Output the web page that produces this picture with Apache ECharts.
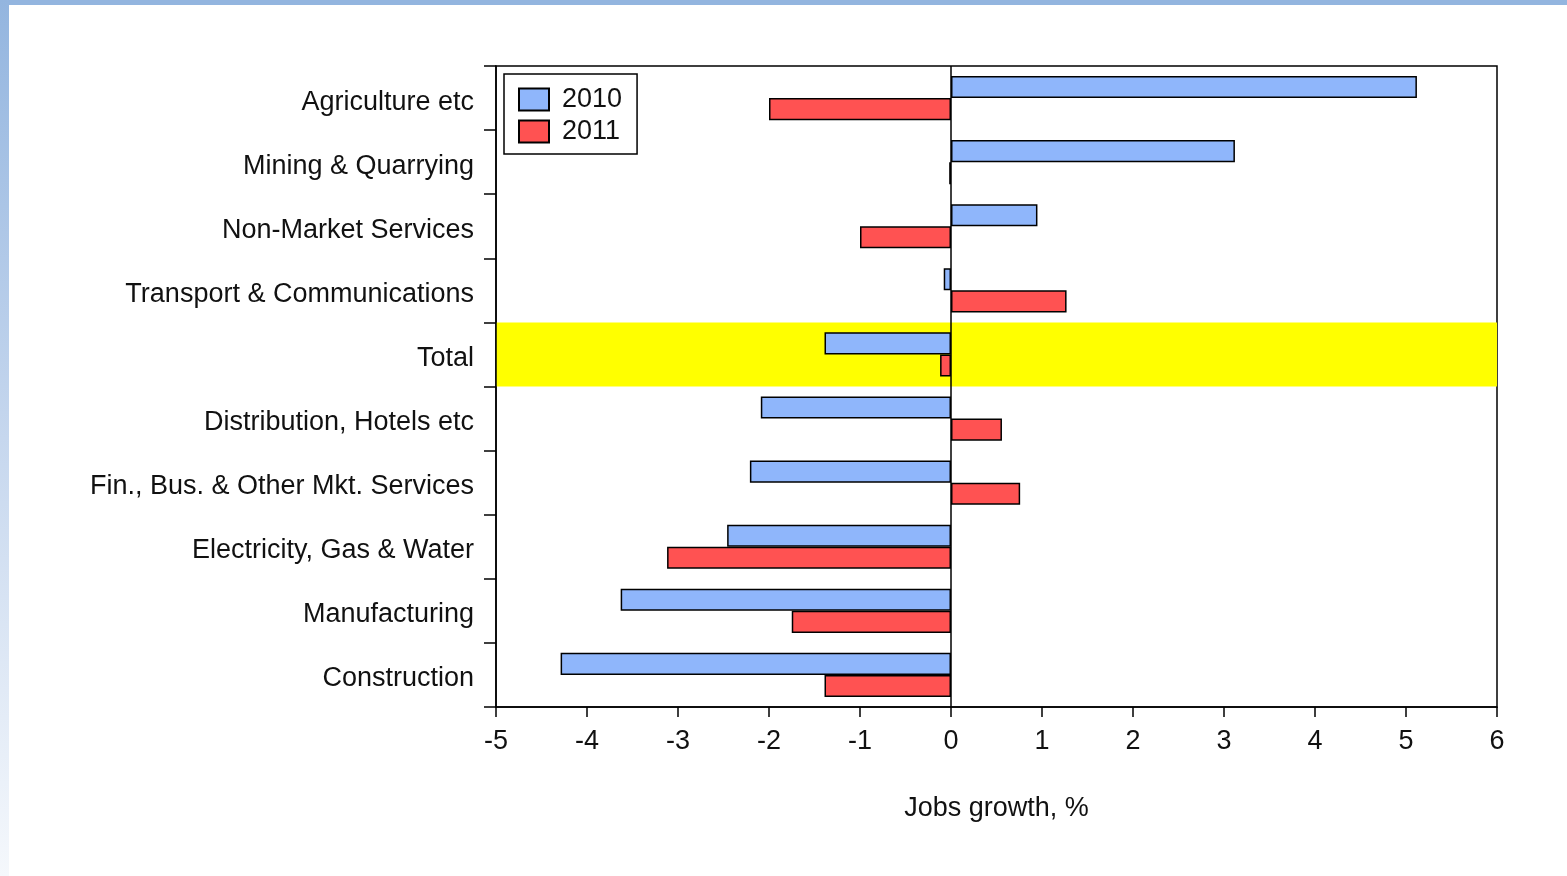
<!DOCTYPE html>
<html>
<head>
<meta charset="utf-8">
<script src="https://cdn.jsdelivr.net/npm/echarts@6/dist/echarts.min.js"></script>
<style>
html,body{margin:0;padding:0;background:#fff;}
#c{width:1567px;height:876px;}
</style>
</head>
<body>
<div id="c"></div>
<script>
const categories = [
  'Agriculture etc',
  'Mining & Quarrying',
  'Non-Market Services',
  'Transport & Communications',
  'Total',
  'Distribution, Hotels etc',
  'Fin., Bus. & Other Mkt. Services',
  'Electricity, Gas & Water',
  'Manufacturing',
  'Construction'
];
const values2010 = [5.12, 3.12, 0.95, -0.08, -1.39, -2.09, -2.21, -2.46, -3.63, -4.29];
const values2011 = [-2.0, -0.02, -1.0, 1.27, -0.12, 0.56, 0.76, -3.12, -1.75, -1.39];
const highlightCategory = 'Total';
const xTicks = { min: -5, max: 6, interval: 1 };
const axisTitle = 'Jobs growth, %';

const FONT = 'Liberation Sans';
const FS = 27;
const splitColors = categories.map(c => c === highlightCategory ? '#ffff00' : 'rgba(0,0,0,0)');

const chart = echarts.init(document.getElementById('c'), null, { renderer: 'canvas' });
chart.setOption({
  backgroundColor: '#ffffff',
  animation: false,
  graphic: [
    { type: 'rect', left: 0, top: 0, shape: { width: 1567, height: 5 }, style: { fill: '#93b5df' }, z: 100 },
    { type: 'rect', left: 0, top: 0, shape: { width: 9, height: 876 },
      style: { fill: new echarts.graphic.LinearGradient(0, 0, 0, 1, [
        { offset: 0, color: '#93b5df' }, { offset: 0.5, color: '#c6d7ee' }, { offset: 1, color: '#f5f8fc' }
      ]) }, z: 100 }
  ],
  grid: {
    left: 496, right: 70, top: 66, bottom: 169,
    show: true, borderColor: '#000', borderWidth: 1.5, backgroundColor: 'transparent'
  },
  legend: {
    orient: 'vertical',
    left: 504, top: 74,
    data: ['2010', '2011'],
    icon: 'rect',
    padding: [12, 15, 9, 14],
    itemWidth: 30, itemHeight: 22, itemGap: 5,
    borderColor: '#000', borderWidth: 1.5,
    backgroundColor: '#fff',
    textStyle: { fontFamily: FONT, fontSize: FS, lineHeight: 22, color: '#111', padding: [0, 0, 0, 8] }
  },
  xAxis: {
    type: 'value',
    min: xTicks.min, max: xTicks.max, interval: xTicks.interval,
    name: axisTitle, nameLocation: 'middle', nameGap: 88,
    nameTextStyle: { fontFamily: FONT, fontSize: FS, color: '#111' },
    axisLine: { show: true, onZero: false, lineStyle: { color: '#000', width: 1.5 } },
    axisTick: { show: true, length: 10, lineStyle: { color: '#000', width: 1.5 } },
    axisLabel: { fontFamily: FONT, fontSize: FS, color: '#111', margin: 21 },
    splitLine: { show: false }
  },
  yAxis: {
    type: 'category',
    data: categories,
    inverse: true,
    axisLine: { show: true, onZero: false, lineStyle: { color: '#000', width: 1.5 } },
    axisTick: { show: true, length: 12, lineStyle: { color: '#000', width: 1.5 } },
    axisLabel: { fontFamily: FONT, fontSize: FS, color: '#111', margin: 22, verticalAlign: 'top', lineHeight: 8 },
    splitLine: { show: false },
    splitArea: { show: true, areaStyle: { color: splitColors } }
  },
  series: [
    {
      name: '2010', type: 'bar', data: values2010,
      barGap: '0%', barCategoryGap: '31%',
      itemStyle: { color: '#8fb6fb', borderColor: '#000', borderWidth: 1.5 },
      markLine: {
        silent: true, symbol: ['none', 'none'],
        label: { show: false },
        lineStyle: { color: '#000', width: 1.5, type: 'solid' },
        data: [{ xAxis: 0 }]
      }
    },
    {
      name: '2011', type: 'bar', data: values2011,
      barGap: '0%', barCategoryGap: '31%',
      itemStyle: { color: '#ff5252', borderColor: '#000', borderWidth: 1.5 }
    }
  ]
});
</script>
</body>
</html>
